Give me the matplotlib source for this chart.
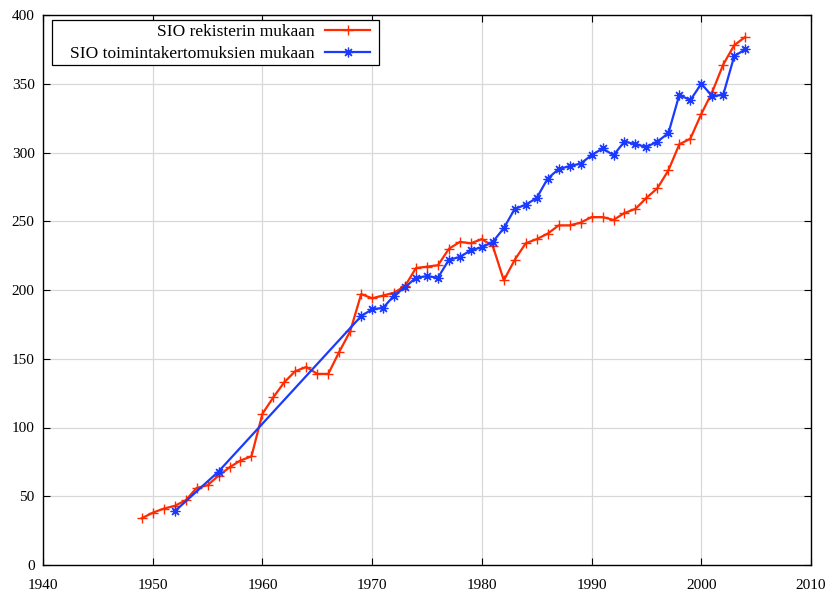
import numpy as np
import matplotlib
matplotlib.use('Agg')
import matplotlib.pyplot as plt
from matplotlib.patches import Rectangle

plt.rcParams['font.family'] = ['Liberation Serif', 'DejaVu Serif']

# SIO rekisterin mukaan
red_years = list(range(1949, 2005))
red_vals = [34, 38, 41, 43, 47, 56, 58, 65, 71, 76,
            79, 110, 122, 133, 141, 144, 139, 139, 155, 170,
            197, 194, 196, 198, 203, 216, 217, 218, 230, 235,
            234, 237, 232, 207, 222, 234, 237, 241, 247, 247,
            249, 253, 253, 251, 256, 259, 267, 274, 287, 306,
            310, 328, 344, 364, 378, 384]

# SIO toimintakertomuksien mukaan
blue_years = [1952, 1956] + list(range(1969, 2005))
blue_vals = [39, 68,
             181, 186, 187, 196, 202, 209, 210, 209, 222, 224,
             229, 231, 235, 245, 259, 262, 267, 281, 288, 290,
             292, 298, 303, 298, 308, 306, 304, 308, 314, 342,
             338, 350, 341, 342, 370, 375]

red_label = 'SIO rekisterin mukaan'
blue_label = 'SIO toimintakertomuksien mukaan'

fig = plt.figure(figsize=(8.32, 5.97), dpi=100)
ax = fig.add_axes([43/832, 1-565/597, 768/832, 550/597])

ax.plot(red_years, red_vals, color='#ff2a00', lw=1.6, marker='+',
        ms=7, mew=1.0, label=red_label)
ax.plot(blue_years, blue_vals, color='#1a3aff', lw=1.6, marker=(8, 2, 0),
        ms=7, mew=0.9, label=blue_label)

ax.set_xlim(1940, 2010)
ax.set_ylim(0, 400)
ax.set_xticks(np.arange(1940, 2011, 10))
ax.set_yticks(np.arange(0, 401, 50))
ax.grid(True, color='#d8d8d8', lw=0.9)
ax.set_axisbelow(True)
ax.tick_params(direction='in', top=True, right=True, length=5, width=0.8,
               labelsize=11, pad=10)
ax.tick_params(axis='y', pad=6)
for s in ax.spines.values():
    s.set_linewidth(1.0)

# legend box drawn separately so the entries can sit at its right edge
box = Rectangle((0.012, 0.909), 0.426, 0.082, transform=ax.transAxes,
                facecolor='white', edgecolor='black', lw=0.9, zorder=4)
ax.add_patch(box)
leg = ax.legend(loc='upper right', bbox_to_anchor=(0.432, 0.991),
                markerfirst=False, frameon=False, fontsize=12.5,
                handlelength=2.6, borderaxespad=0, borderpad=0.25,
                labelspacing=0.3, handletextpad=0.6)
leg.set_zorder(5)
leg._legend_box.align = 'right'

fig.savefig('out.png', dpi=100)
